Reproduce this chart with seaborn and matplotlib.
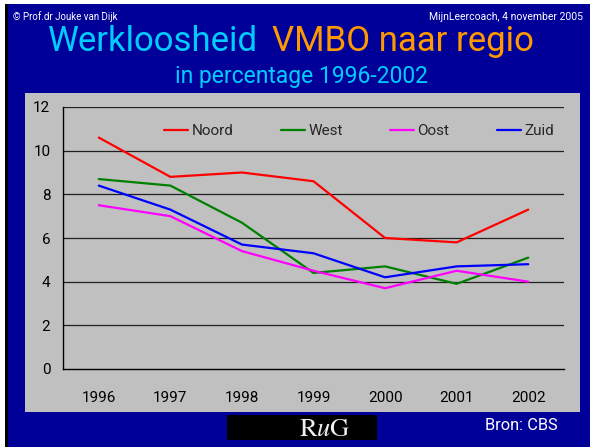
import pandas as pd
import matplotlib
matplotlib.use("Agg")
import matplotlib.pyplot as plt
from matplotlib.patches import Rectangle
import seaborn as sns

years = [1996, 1997, 1998, 1999, 2000, 2001, 2002]
regions = ["Noord", "West", "Oost", "Zuid"]
noord = [10.6, 8.8, 9.0, 8.6, 6.0, 5.8, 7.3]
west = [8.7, 8.4, 6.7, 4.4, 4.7, 3.9, 5.1]
oost = [7.5, 7.0, 5.4, 4.5, 3.7, 4.5, 4.0]
zuid = [8.4, 7.3, 5.7, 5.3, 4.2, 4.7, 4.8]
y_ticks = [0, 2, 4, 6, 8, 10, 12]

colors = {"Noord": "#FF0000", "West": "#008000", "Oost": "#FF00FF", "Zuid": "#0000FF"}

df = pd.DataFrame({"jaar": years * 4,
                   "regio": sum([[r] * len(years) for r in regions], []),
                   "pct": noord + west + oost + zuid})

sns.set_style("white")
plt.rcParams["font.family"] = ["Roboto", "DejaVu Sans"]

W, H = 594, 447
fig = plt.figure(figsize=(W / 100, H / 100), dpi=100, facecolor="white")


def fx(px):
    return px / W


def fy(py):
    return 1 - py / H


def box(x0, y0, x1, y1, color, z=-1):
    # rectangle given in picture pixels (top-left origin)
    fig.patches.append(Rectangle((fx(x0), fy(y1)), fx(x1) - fx(x0), fy(y0) - fy(y1),
                                 transform=fig.transFigure, facecolor=color,
                                 edgecolor="none", zorder=z))


# slide background
box(5, 4, 8, H, "black", -3)
box(8, 4, 590, H, "#000099", -3)
# grey chart panel
box(25, 93, 580, 412, "#C0C0C0", -2)
# logo box
box(227, 415, 377, 440, "black", -2)

ax = fig.add_axes([fx(63), fy(369), fx(564) - fx(63), fy(107) - fy(369)])
ax.set_facecolor("none")

sns.lineplot(data=df, x="jaar", y="pct", hue="regio", hue_order=regions,
             palette=colors, linewidth=1.6, ax=ax)

ax.set_xlim(1995.5, 2002.5)
ax.set_ylim(0, 12)
ax.set_yticks(y_ticks)
ax.set_yticklabels([str(v) for v in y_ticks])
for v in y_ticks[1:]:
    ax.axhline(v, color="#202020", linewidth=0.9, zorder=0)

ax.set_xticks([y - 0.5 for y in years] + [years[-1] + 0.5])
ax.set_xticklabels([])
ax.set_xticks(years, minor=True)
ax.set_xticklabels([str(y) for y in years], minor=True)
ax.tick_params(axis="x", which="major", direction="out", length=5, width=1, color="black")
ax.tick_params(axis="x", which="minor", length=0, pad=15.5, labelsize=11, labelcolor="black")
ax.tick_params(axis="y", direction="out", length=5, width=1, color="black",
               labelsize=11, labelcolor="black", pad=4)

for s in ["top", "right"]:
    ax.spines[s].set_visible(False)
for s in ["left", "bottom"]:
    ax.spines[s].set_color("black")
    ax.spines[s].set_linewidth(1)
ax.set_xlabel("")
ax.set_ylabel("")

handles, labels = ax.get_legend_handles_labels()
ax.legend(handles, labels, ncol=4, frameon=False, loc="center",
          bbox_to_anchor=(fx(359), fy(131)), bbox_transform=fig.transFigure,
          fontsize=11, handlelength=1.6, handletextpad=0.2, columnspacing=3.1)

# header texts
fig.text(fx(13), fy(20), "\u00a9 Prof.dr Jouke van Dijk", color="white", fontsize=7,
         ha="left", va="baseline")
fig.text(fx(583), fy(20), "MijnLeercoach, 4 november 2005", color="white", fontsize=7.5,
         ha="right", va="baseline")
fig.text(fx(258), fy(51), "Werkloosheid", color="#00CCFF", fontsize=25,
         ha="right", va="baseline")
fig.text(fx(272), fy(51), "VMBO naar regio", color="#FF9900", fontsize=25,
         ha="left", va="baseline")
fig.text(fx(301.5), fy(83), "in percentage 1996-2002", color="#00CCFF", fontsize=16.5,
         ha="center", va="baseline")

# footer
fig.text(fx(325), fy(436), r"$\mathrm{R}\mathit{u}\mathrm{G}$", color="#F0F0F0",
         fontsize=19, ha="center", va="baseline", math_fontfamily="stix")
fig.text(fx(485), fy(430), "Bron: CBS", color="white", fontsize=11.8,
         ha="left", va="baseline")

fig.savefig("out.png", dpi=100, facecolor=fig.get_facecolor())
